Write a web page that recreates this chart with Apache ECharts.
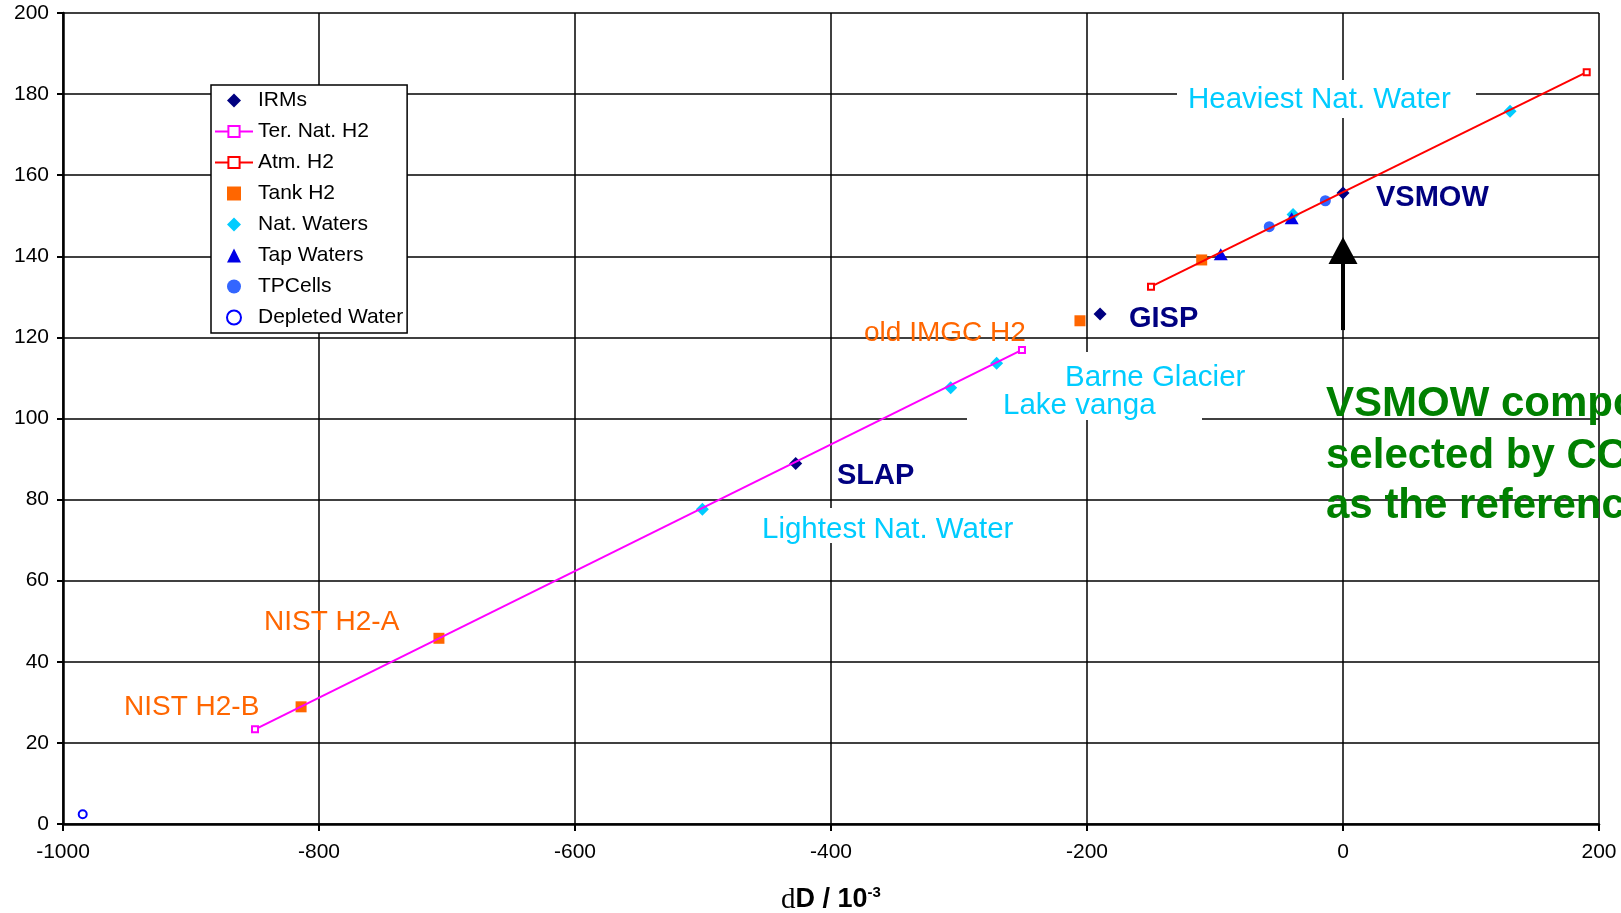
<!DOCTYPE html>
<html>
<head>
<meta charset="utf-8">
<script src="https://cdn.jsdelivr.net/npm/echarts@6/dist/echarts.min.js"></script>
<style>
  html, body { margin: 0; padding: 0; background: #fff; }
  #main { width: 1621px; height: 913px; }
</style>
</head>
<body>
<div id="main"></div>
<script>
  // values: [dD / 10^-3, D/H]
  var irms = [[0, 155.6], [-427.6, 88.9], [-189.8, 125.8]];
  var terNatH2 = [[-850, 23.35], [-250.8, 116.9]];
  var atmH2 = [[-150, 132.5], [190.4, 185.4]];
  var tankH2 = [[-814, 28.9], [-706.3, 45.8], [-205.5, 124.1], [-110.4, 139.1]];
  var natWaters = [[-500.5, 77.6], [-306.5, 107.6], [-270.6, 113.6], [-39, 150.3], [130.5, 175.8]];
  var tapWaters = [[-95.5, 140.5], [-40.1, 149.4]];
  var tpCells = [[-57.6, 147.3], [-13.8, 153.7]];
  var depleted = [[-984.6, 2.4]];
  var vsmowArrow = [121.8, 141.4];

  var seriesNames = ['IRMs', 'Ter. Nat. H2', 'Atm. H2', 'Tank H2', 'Nat. Waters', 'Tap Waters', 'TPCells', 'Depleted Water'];
  var greenNote = ['VSMOW composition', 'selected by CCT', 'as the reference'];

  var FONT = '"Liberation Sans", Arial, sans-serif';
  var CYAN = '#00ccff', ORANGE = '#ff6600', NAVY = '#000080', GREEN = '#008000';

  // square-aspect legend icons (built-in symbols get stretched to itemWidth)
  var ICON_DIAMOND = 'path://M0,-1L1,0L0,1L-1,0Z';
  var ICON_SQUARE = 'path://M0,0L1,0L1,1L0,1Z';
  var ICON_TRIANGLE = 'path://M0,-1L1,1L-1,1Z';
  var legendIcons = {
    'IRMs': ICON_DIAMOND, 'Tank H2': ICON_SQUARE, 'Nat. Waters': ICON_DIAMOND,
    'Tap Waters': ICON_TRIANGLE, 'TPCells': 'circle', 'Depleted Water': 'emptyCircle'
  };

  function note(text, x, y, color, bold, size) {
    return {
      type: 'text', z: 100,
      style: {
        text: text, x: x, y: y, verticalAlign: 'middle',
        fill: color, fontFamily: FONT, fontSize: size,
        fontWeight: bold ? 'bold' : 'normal'
      }
    };
  }
  function whiteBox(x, y, w, h) {
    return { type: 'rect', z: 1, shape: { x: x, y: y, width: w, height: h }, style: { fill: '#fff' } };
  }

  var myChart = echarts.init(document.getElementById('main'));
  myChart.setOption({
    animation: false,
    textStyle: { fontFamily: FONT },
    grid: { left: 63, right: 22, top: 13, bottom: 89, containLabel: false, outerBoundsMode: 'none' },
    legend: {
      orient: 'vertical',
      left: 211, top: 85,
      padding: [5, 4, 5, 3],
      itemWidth: 38, itemHeight: 14, itemGap: 10,
      symbolKeepAspect: true,
      backgroundColor: '#fff',
      borderColor: '#000', borderWidth: 1.5, borderRadius: 0,
      textStyle: { fontSize: 21, color: '#000', fontFamily: FONT },
      data: seriesNames.map(function (n) {
        return legendIcons[n] ? { name: n, icon: legendIcons[n] } : { name: n };
      })
    },
    xAxis: {
      type: 'value', min: -1000, max: 200, interval: 200,
      name: '{d|d}{b|D / 10}{s|-3}',
      nameLocation: 'middle', nameGap: 61,
      nameTextStyle: {
        rich: {
          d: { fontFamily: '"Liberation Serif", serif', fontSize: 29, color: '#000', lineHeight: 30 },
          b: { fontFamily: FONT, fontSize: 27, fontWeight: 'bold', color: '#000', lineHeight: 30 },
          s: { fontFamily: FONT, fontSize: 15, fontWeight: 'bold', color: '#000', lineHeight: 15, verticalAlign: 'top' }
        }
      },
      axisLine: { onZero: false, lineStyle: { color: '#000', width: 2.5 } },
      axisTick: { length: 7, lineStyle: { color: '#000', width: 2 } },
      axisLabel: {
        fontSize: 21, color: '#000', margin: 18, fontFamily: FONT,
        formatter: function (v) { return String(v); }
      },
      splitLine: { show: true, lineStyle: { color: '#000', width: 1.5 } }
    },
    yAxis: {
      type: 'value', min: 0, max: 200, interval: 20,
      axisLine: { show: true, onZero: false, lineStyle: { color: '#000', width: 2.5 } },
      axisTick: { show: true, length: 6, lineStyle: { color: '#000', width: 2 } },
      axisLabel: { fontSize: 21, color: '#000', margin: 14, fontFamily: FONT },
      splitLine: { show: true, lineStyle: { color: '#000', width: 1.5 } }
    },
    series: [{
      name: 'IRMs', type: 'scatter', data: irms,
      symbol: 'diamond', symbolSize: 13,
      itemStyle: { color: NAVY, opacity: 1 },
      markLine: {
        silent: true, animation: false,
        symbol: ['none', 'triangle'], symbolSize: [29, 27],
        label: { show: false },
        lineStyle: { color: '#000', width: 4, type: 'solid' },
        data: [[{ coord: [0, vsmowArrow[0]] }, { coord: [0, vsmowArrow[1]] }]]
      }
    }, {
      name: 'Ter. Nat. H2', type: 'line', data: terNatH2,
      symbol: 'emptyRect', symbolSize: 6,
      lineStyle: { color: '#ff00ff', width: 2 },
      itemStyle: { color: '#ff00ff', borderWidth: 1.5 }
    }, {
      name: 'Atm. H2', type: 'line', data: atmH2,
      symbol: 'emptyRect', symbolSize: 6,
      lineStyle: { color: '#ff0000', width: 2 },
      itemStyle: { color: '#ff0000', borderWidth: 1.5 }
    }, {
      name: 'Tank H2', type: 'scatter', data: tankH2,
      symbol: 'rect', symbolSize: 11,
      itemStyle: { color: ORANGE, opacity: 1 }
    }, {
      name: 'Nat. Waters', type: 'scatter', data: natWaters,
      symbol: 'diamond', symbolSize: 13,
      itemStyle: { color: CYAN, opacity: 1 }
    }, {
      name: 'Tap Waters', type: 'scatter', data: tapWaters,
      symbol: 'triangle', symbolSize: [14, 12],
      itemStyle: { color: '#0000e6', opacity: 1 }
    }, {
      name: 'TPCells', type: 'scatter', data: tpCells,
      symbol: 'circle', symbolSize: 11,
      itemStyle: { color: '#3366ff', opacity: 1 }
    }, {
      name: 'Depleted Water', type: 'scatter', data: depleted,
      symbol: 'emptyCircle', symbolSize: 8,
      itemStyle: { color: '#0000ff', borderWidth: 2, opacity: 1 }
    }],
    graphic: [
      whiteBox(1177, 80, 299, 38),
      whiteBox(967, 352, 235, 68),
      whiteBox(755, 508, 260, 35),
      note('Heaviest Nat. Water', 1188, 100, CYAN, false, 29.5),
      note('VSMOW', 1376, 198, NAVY, true, 29),
      note('GISP', 1129, 319, NAVY, true, 29),
      note('old IMGC H2', 864, 333, ORANGE, false, 28),
      note('Barne Glacier', 1065, 378, CYAN, false, 29.5),
      note('Lake vanga', 1003, 406, CYAN, false, 29.5),
      note('SLAP', 837, 476, NAVY, true, 29),
      note('Lightest Nat. Water', 762, 530, CYAN, false, 29.5),
      note('NIST H2-A', 264, 622, ORANGE, false, 28),
      note('NIST H2-B', 124, 707, ORANGE, false, 28),
      note(greenNote[0], 1326, 404, GREEN, true, 42),
      note(greenNote[1], 1326, 456, GREEN, true, 42),
      note(greenNote[2], 1326, 506, GREEN, true, 42)
    ]
  });
</script>
</body>
</html>
